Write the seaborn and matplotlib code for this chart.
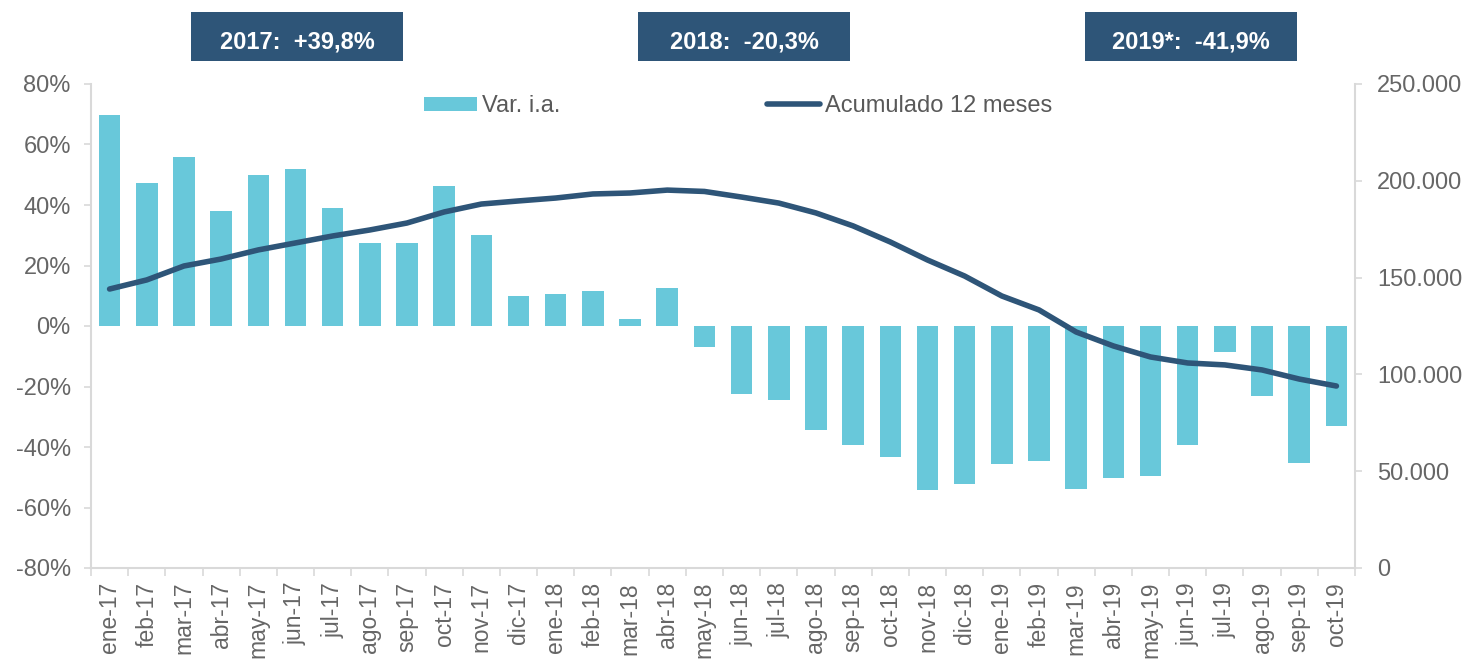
import numpy as np
import pandas as pd
import matplotlib
matplotlib.use('Agg')
import matplotlib.pyplot as plt
from matplotlib.patches import Rectangle
from matplotlib.ticker import FuncFormatter, FixedLocator
import seaborn as sns

# meses y valores
meses = ['ene-17', 'feb-17', 'mar-17', 'abr-17', 'may-17', 'jun-17', 'jul-17', 'ago-17',
         'sep-17', 'oct-17', 'nov-17', 'dic-17', 'ene-18', 'feb-18', 'mar-18', 'abr-18',
         'may-18', 'jun-18', 'jul-18', 'ago-18', 'sep-18', 'oct-18', 'nov-18', 'dic-18',
         'ene-19', 'feb-19', 'mar-19', 'abr-19', 'may-19', 'jun-19', 'jul-19', 'ago-19',
         'sep-19', 'oct-19']

var_ia = [69.7, 47.3, 55.9, 38.0, 49.9, 51.9, 39.0, 27.4, 27.4, 46.3, 30.0, 9.9,
          10.6, 11.6, 2.3, 12.6, -6.9, -22.5, -24.5, -34.4, -39.4, -43.3, -54.2, -52.2,
          -45.6, -44.6, -53.9, -50.2, -49.6, -39.3, -8.6, -23.1, -45.3, -33.1]

acumulado = [144100, 148800, 156000, 159600, 164300, 167900, 171500, 174600, 178200,
             183900, 188000, 189600, 191100, 193200, 193700, 195200, 194500, 191600,
             188500, 183400, 176700, 168400, 159100, 150800, 140500, 133300, 121900,
             114700, 109000, 105900, 104900, 102300, 97600, 94000]

anios = ['2017:  +39,8%', '2018:  -20,3%', '2019*:  -41,9%']

bar_color = '#68C8DA'
dark = '#2E5578'
grey_txt = '#666666'
grey_line = '#D9D9D9'

sns.set_style('white')
plt.rcParams['font.family'] = ['Liberation Sans', 'DejaVu Sans']

df = pd.DataFrame({'mes': meses, 'var': var_ia, 'acum': acumulado})
df['pos'] = np.arange(len(df))

fig = plt.figure(figsize=(14.65, 6.59), dpi=100)
ax = fig.add_axes([91 / 1465, 1 - 568 / 659, (1355 - 91) / 1465, (568 - 84) / 659])

sns.barplot(data=df, x='mes', y='var', color=bar_color, saturation=1, width=0.58,
            linewidth=0, ax=ax, label='Var. i.a.')
ax.set_ylim(-80, 80)
ax.set_xlim(-0.5, len(meses) - 0.5)
ax.set_yticks(np.arange(-80, 81, 20))
ax.yaxis.set_major_formatter(FuncFormatter(lambda v, p: f'{int(v)}%'))
ax.set_xlabel('')
ax.set_ylabel('')

ax2 = ax.twinx()
sns.lineplot(data=df, x='pos', y='acum', color=dark, linewidth=4, sort=False,
             ax=ax2, label='Acumulado 12 meses')
ax2.lines[0].set_solid_capstyle('round')
ax2.set_ylim(0, 250000)
ax2.set_yticks(np.arange(0, 250001, 50000))
ax2.yaxis.set_major_formatter(FuncFormatter(lambda v, p: f'{v:,.0f}'.replace(',', '.')))
ax2.set_xlim(-0.5, len(meses) - 0.5)
ax2.set_xlabel('')
ax2.set_ylabel('')

# ejes y ticks
for a in (ax, ax2):
    for s in a.spines.values():
        s.set_color(grey_line)
        s.set_linewidth(1.5)
    a.spines['top'].set_visible(False)
ax.spines['right'].set_visible(False)
ax2.spines['left'].set_visible(False)
ax2.spines['bottom'].set_visible(False)

ax.tick_params(axis='y', left=True, length=5, width=1.2, color=grey_line, pad=9.5,
               labelsize=17, labelcolor=grey_txt)
ax2.tick_params(axis='y', right=True, length=5, width=1.2, color=grey_line, pad=11,
                labelsize=17, labelcolor=grey_txt)
ax.set_xticks(np.arange(len(meses)))
ax.set_xticklabels(meses, rotation=90)
ax.xaxis.set_minor_locator(FixedLocator(np.arange(len(meses) + 1) - 0.5))
ax.tick_params(axis='x', which='major', bottom=True, length=0, pad=10,
               labelsize=16.5, labelcolor=grey_txt)
ax.tick_params(axis='x', which='minor', bottom=True, length=5.5, width=1.2, color=grey_line)
ax.grid(False)
ax2.grid(False)

# leyenda
h1, l1 = ax.get_legend_handles_labels()
h2, l2 = ax2.get_legend_handles_labels()
if ax.get_legend():
    ax.get_legend().remove()
if ax2.get_legend():
    ax2.get_legend().remove()
fig.legend(h1 + h2, l1 + l2, loc='center left', bbox_to_anchor=(424 / 1465, 1 - 106 / 659),
           ncol=2, frameon=False, fontsize=17, labelcolor='#595959', borderpad=0,
           borderaxespad=0, handlelength=2.25, handleheight=0.55, handletextpad=0.2,
           columnspacing=8.75)

# recuadros con la variacion anual
cajas = [(191, 403), (638, 850), (1085, 1297)]
for (x0, x1), txt in zip(cajas, anios):
    fig.add_artist(Rectangle((x0 / 1465, 1 - 61 / 659), (x1 - x0) / 1465, 49 / 659,
                             transform=fig.transFigure, color=dark, lw=0))
    fig.text((x0 + x1) / 2 / 1465, 1 - 42 / 659, txt, color='white', fontsize=17,
             fontweight='bold', ha='center', va='center')

fig.savefig('out.png', dpi=100)
